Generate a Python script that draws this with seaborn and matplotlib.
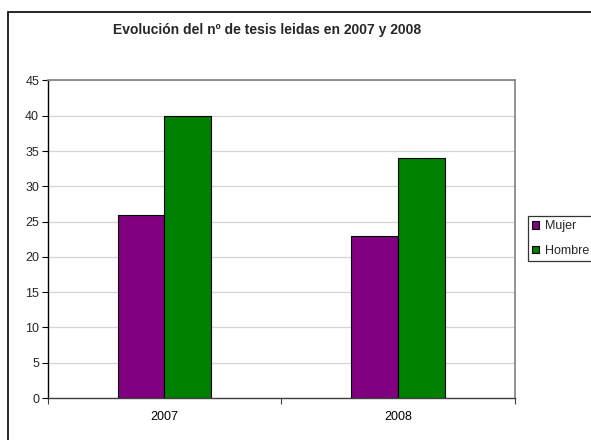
import matplotlib
matplotlib.use("Agg")
import matplotlib.pyplot as plt
from matplotlib.patches import Rectangle
import seaborn as sns
import pandas as pd

years = ["2007", "2008"]
series = ["Mujer", "Hombre"]
mujer = [26, 23]
hombre = [40, 34]
colors = ["#800080", "#008000"]
title = "Evolución del nº de tesis leidas en 2007 y 2008"

df = pd.DataFrame({
    "year": years * 2,
    "serie": [series[0]] * len(years) + [series[1]] * len(years),
    "value": mujer + hombre,
})

sns.set_style("white")
plt.rcParams["font.family"] = ["Liberation Sans", "DejaVu Sans"]

fig = plt.figure(figsize=(5.91, 4.40), dpi=100)
ax = fig.add_axes([47.5 / 591, 1 - 398 / 440, (515 - 47.5) / 591, (398 - 80.5) / 440])

sns.barplot(data=df, x="year", y="value", hue="serie", order=years, hue_order=series,
            palette=colors, width=0.4, edgecolor="black", linewidth=0.8,
            saturation=1, ax=ax, legend=True)

ax.set_xlim(-0.5, 1.5)
ax.set_ylim(0, 45)
ax.set_yticks(range(0, 46, 5))
ax.yaxis.grid(True, color="#d4d4d4", linewidth=0.9)
ax.set_axisbelow(True)
ax.set_xlabel("")
ax.set_ylabel("")

ax.set_xticks([0, 1])
ax.set_xticklabels(years)
ax.set_xticks([-0.5, 0.5, 1.5], minor=True)
ax.tick_params(axis="x", which="major", length=0, pad=9, labelsize=9, colors="black")
ax.tick_params(axis="x", which="minor", length=4, width=0.8, color="#404040", direction="out", bottom=True)
ax.tick_params(axis="y", which="major", length=4, width=0.8, color="black", direction="out",
               left=True, pad=2, labelsize=9)

ax.spines["left"].set_color("black")
ax.spines["left"].set_linewidth(1.0)
ax.spines["bottom"].set_color("#404040")
ax.spines["bottom"].set_linewidth(1.0)
for s in ["top", "right"]:
    ax.spines[s].set_color("#808080")
    ax.spines[s].set_linewidth(1.2)

leg = ax.legend(loc="upper left", bbox_to_anchor=(528 / 591, 1 - 216 / 440),
                bbox_transform=fig.transFigure, frameon=True, fancybox=False,
                fontsize=9, handlelength=0.5, handleheight=0.5, handletextpad=0.5,
                borderpad=0.35, labelspacing=1.0, borderaxespad=0)
leg.get_frame().set_edgecolor("black")
leg.get_frame().set_linewidth(0.9)
for h in leg.legend_handles:
    h.set_edgecolor("black")
    h.set_linewidth(0.8)

fig.text(267 / 591, 1 - 30 / 440, title, ha="center", va="center",
         fontsize=10, fontweight="bold")

fig.patches.append(Rectangle((8 / 591, -0.1), 1.2, 1 - 12 / 440 + 0.1,
                             transform=fig.transFigure, fill=False,
                             edgecolor="black", linewidth=1.2, zorder=0))

fig.savefig("out.png", dpi=100)
